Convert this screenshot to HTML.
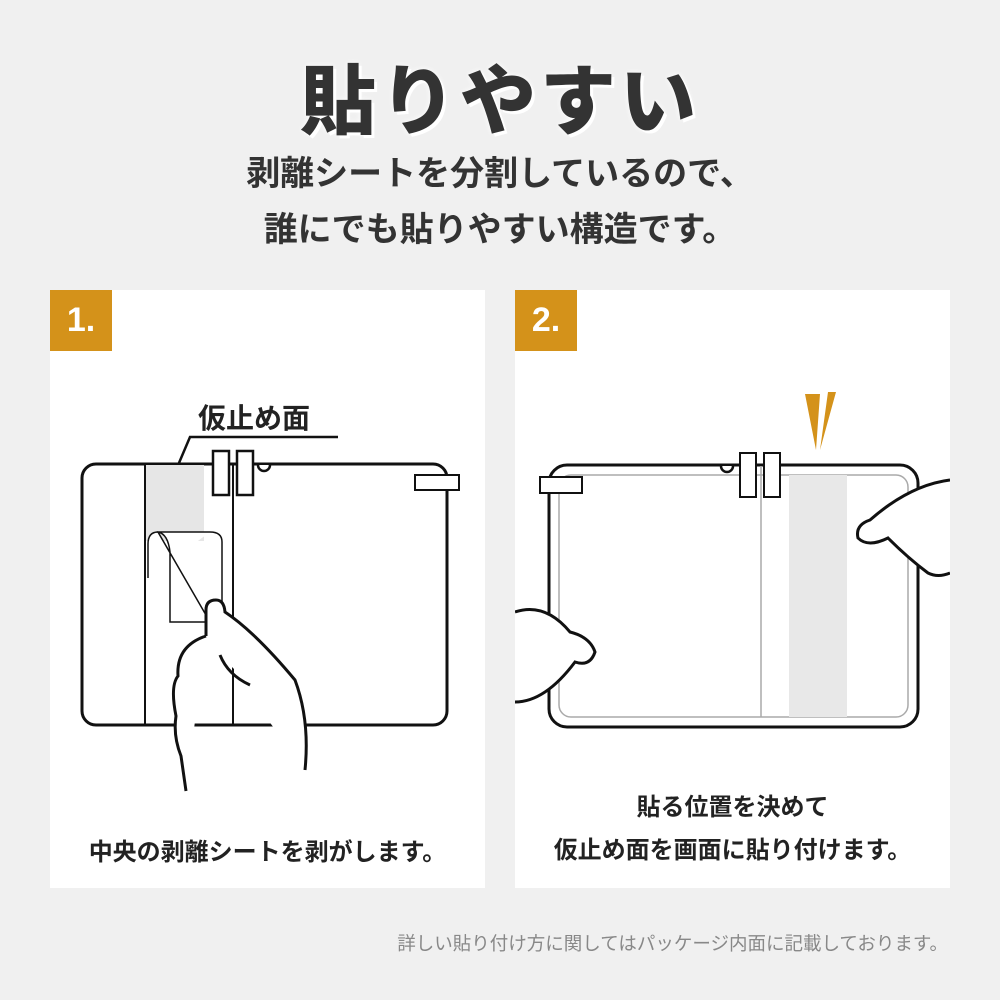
<!DOCTYPE html><html><head><meta charset="utf-8"><style>
body{margin:0;width:1000px;height:1000px;background:#f0f0f0;font-family:"Liberation Sans","Noto Sans CJK JP",sans-serif;position:relative;overflow:hidden;color:#333}
.t{position:absolute;left:0;width:1000px;text-align:center}
.p{position:absolute;top:290px;width:435px;height:598px;background:#fff}
.b{position:absolute;left:0;top:0;width:62px;height:61px;background:#d4921a;color:#fff;font-weight:bold;font-size:34px;line-height:61px;text-align:center}
.c{position:absolute;left:0;width:435px;text-align:center;font-weight:bold;font-size:24px;color:#222;line-height:36px}
</style></head><body>
<div class="t" style="top:40px;font-size:76px;font-weight:900;color:#333;letter-spacing:4px;text-shadow:0 0 6px #fff,3px 3px 0 #fff">貼りやすい</div>
<div class="t" style="top:146px;font-size:34px;font-weight:bold;line-height:56px;color:#333">剥離シートを分割しているので、<br>誰にでも貼りやすい構造です。</div>
<div class="p" style="left:50px"><div class="b">1.</div>
<svg width="435" height="598" style="position:absolute;left:0;top:0" fill="none" stroke="#111" stroke-width="3">
<text x="148" y="138" font-size="28" font-weight="bold" fill="#222" stroke="none" font-family="Liberation Sans,Noto Sans CJK JP,sans-serif">仮止め面</text>
<path d="M288 147H140L126 180" stroke-width="2.5"/>
<rect x="32" y="174" width="365" height="261" rx="14"/>
<rect x="96" y="175" width="58" height="76" fill="#e6e6e6" stroke="none"/>
<path d="M95 175V435M183 175V435" stroke-width="2"/>
<rect x="163" y="161" width="16" height="44" fill="#fff" stroke-width="2.5"/>
<rect x="187" y="161" width="16" height="44" fill="#fff" stroke-width="2.5"/>
<path d="M208 175a5 5 0 0 0 12 0" fill="#fff" stroke-width="2.5"/>
<rect x="365" y="185" width="44" height="15" fill="#fff" stroke-width="2"/>
<path d="M160 242H108q-10 0-10 12V288M108 242q10 2 12 20V332H160ZM160 242q12 0 12 10V330" fill="#fff" stroke-width="1.5"/>
<path d="M156 346V320q0-10 10-10q8 0 9 12q30 20 70 68q15 40 10 90M156 346q-30 10-28 40q-8 10-2 40q-3 20 5 40l5 35M170 365q8 20 30 30" fill="#fff" stroke-width="3"/>
</svg>
<div class="c" style="top:545px">中央の剥離シートを剥がします。</div></div>
<div class="p" style="left:515px"><div class="b">2.</div>
<svg width="435" height="598" style="position:absolute;left:0;top:0" fill="none" stroke="#111" stroke-width="3">
<rect x="34" y="175" width="369" height="262" rx="18"/>
<rect x="44" y="185" width="349" height="242" rx="12" stroke="#aaa" stroke-width="1.5"/>
<rect x="274" y="185" width="58" height="242" fill="#e8e8e8" stroke="none"/>
<path d="M246 176V427" stroke="#aaa" stroke-width="1.5"/>
<rect x="225" y="163" width="16" height="44" fill="#fff" stroke-width="2"/>
<rect x="249" y="163" width="16" height="44" fill="#fff" stroke-width="2"/>
<path d="M206 176a5 5 0 0 0 12 0" fill="#fff" stroke-width="2.5"/>
<rect x="25" y="187" width="42" height="16" fill="#fff" stroke-width="2"/>
<path d="M290 104l11 56 4-56z M305 160l16-58-8 0z" fill="#d4921a" stroke="none"/>
<path d="M0 322q30-10 55 20q20 5 25 20q-5 15-20 10q-30 40-60 40" fill="#fff"/>
<path d="M435 190q-40 5-80 40q-15 5-12 18q10 10 30 0q20 20 40 35q10 5 22 0" fill="#fff"/>
</svg>
<div class="c" style="top:496px;line-height:43px">貼る位置を決めて<br>仮止め面を画面に貼り付けます。</div></div>
<div style="position:absolute;right:52px;top:930px;font-size:18.5px;color:#888">詳しい貼り付け方に関してはパッケージ内面に記載しております。</div>
</body></html>
